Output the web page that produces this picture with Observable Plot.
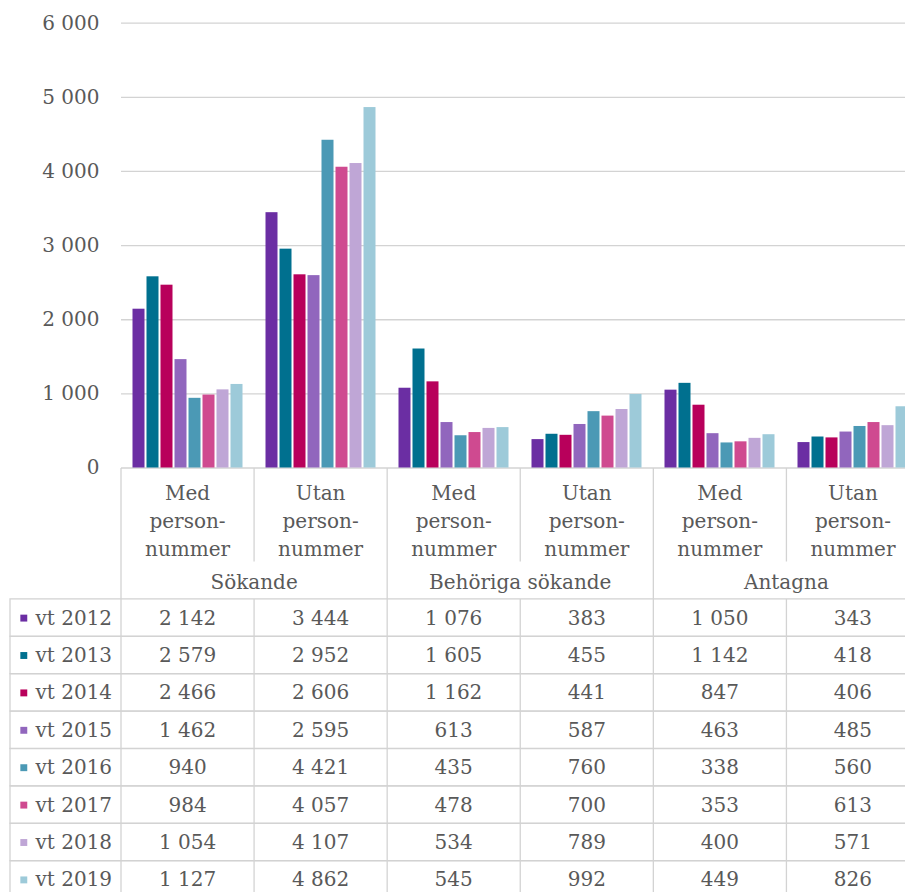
<!DOCTYPE html>
<html><head><meta charset="utf-8">
<script src="https://cdn.jsdelivr.net/npm/d3@7"></script>
<script src="https://cdn.jsdelivr.net/npm/@observablehq/plot@0.6"></script>
<style>
body{margin:0;background:#fff;}
#wrap{position:relative;width:905px;height:892px;overflow:hidden;background:#fff;}
#chart,#table{position:absolute;left:0;width:919px;}
#chart{top:0;}
#table{top:467.5px;}
#wrap svg{max-width:none !important;}
</style></head><body>
<div id="wrap"><div id="chart"></div><div id="table"></div></div>
<script>
const groups = ["Sökande", "Behöriga sökande", "Antagna"];
const subLabels = ["Med\nperson-\nnummer", "Utan\nperson-\nnummer"];
const series = ["vt 2012", "vt 2013", "vt 2014", "vt 2015", "vt 2016", "vt 2017", "vt 2018", "vt 2019"];
const colors = ["#6b2ea3", "#00708f", "#b8005b", "#9166bd", "#4b99b5", "#cf4a90", "#bfa6d6", "#9dcad9"];
const v2012 = [2142, 3444, 1076, 383, 1050, 343];
const v2013 = [2579, 2952, 1605, 455, 1142, 418];
const v2014 = [2466, 2606, 1162, 441, 847, 406];
const v2015 = [1462, 2595, 613, 587, 463, 485];
const v2016 = [940, 4421, 435, 760, 338, 560];
const v2017 = [984, 4057, 478, 700, 353, 613];
const v2018 = [1054, 4107, 534, 789, 400, 571];
const v2019 = [1127, 4862, 545, 992, 449, 826];
const yTicks = [0, 1000, 2000, 3000, 4000, 5000, 6000];

const values = [v2012, v2013, v2014, v2015, v2016, v2017, v2018, v2019];
const categories = groups.flatMap(g => subLabels.map(s => ({group: g, sub: s, key: g + "|" + s})));
const catKeys = categories.map(c => c.key);
const locale = d3.formatLocale({decimal: ",", thousands: " ", grouping: [3], currency: ["", ""]});
const fmt = locale.format(",");

const textColor = "#595959";
const lineColor = "#d3d3d3";
const font = {fontFamily: "DejaVu Serif", fontSize: "20px", color: textColor, background: "transparent", maxWidth: "none"};

const bars = series.flatMap((s, si) => categories.map((c, ci) => ({series: s, category: c.key, value: values[si][ci]})));

const chart = Plot.plot({
  width: 919, height: 480,
  marginTop: 22.7, marginBottom: 12.5, marginLeft: 120.5, marginRight: 0,
  style: font,
  fx: {domain: catKeys, padding: 0, axis: null, label: null},
  x: {domain: series, paddingInner: 0.17, paddingOuter: 0.82, axis: null, label: null},
  y: {domain: [0, 6000], ticks: 6, tickFormat: fmt, tickSize: 0, tickPadding: 22, label: null},
  color: {domain: series, range: colors},
  marks: [
    Plot.ruleY(yTicks, {stroke: lineColor, strokeWidth: 1.3}),
    Plot.barY(bars, {fx: "category", x: "series", y: "value", fill: "series"})
  ]
});
document.getElementById("chart").appendChild(chart);

const rows = series.map((s, i) => ({series: s, i}));
const cells = series.flatMap((s, si) => categories.map((c, ci) => ({series: s, col: ci, row: si, text: fmt(values[si][ci])})));

const table = Plot.plot({
  width: 919, height: 424.5,
  marginTop: 0, marginBottom: 0, marginRight: 0, marginLeft: 10,
  style: font,
  x: {type: "linear", domain: [0, categories.length], range: [120.5, 919], axis: null},
  y: {type: "linear", domain: [-3.5, series.length], range: [0, 430.1], axis: null},
  color: {domain: series, range: colors},
  marks: [
    Plot.rect(rows, {y1: d => d.i, y2: d => d.i + 1, stroke: lineColor, strokeWidth: 1.3, fill: "none"}),
    Plot.ruleX(categories, {x: (d, i) => i, y1: 0, y2: series.length, stroke: lineColor, strokeWidth: 1.3}),
    Plot.ruleX(categories, {x: (d, i) => i, y1: -3.5, y2: (d, i) => (i % 2 === 0 ? 0 : -1), stroke: lineColor, strokeWidth: 1.3}),
    Plot.text(categories, {x: (d, i) => i + 0.5, y: -2.25, text: d => d.sub, lineHeight: 1.4, dy: 4, fill: textColor}),
    Plot.text(groups, {x: (d, i) => 2 * i + 1, y: -0.5, text: d => d, dy: 2, fill: textColor}),
    Plot.text(cells, {x: d => d.col + 0.5, y: d => d.row + 0.5, text: "text", fill: textColor}),
    Plot.dot(rows, {y: d => d.i + 0.5, frameAnchor: "left", dx: 13.3, symbol: "square", r: 3.9, fill: "series"}),
    Plot.text(rows, {y: d => d.i + 0.5, frameAnchor: "left", dx: 25, textAnchor: "start", text: "series", fill: textColor})
  ]
});
document.getElementById("table").appendChild(table);
</script>
</body></html>
